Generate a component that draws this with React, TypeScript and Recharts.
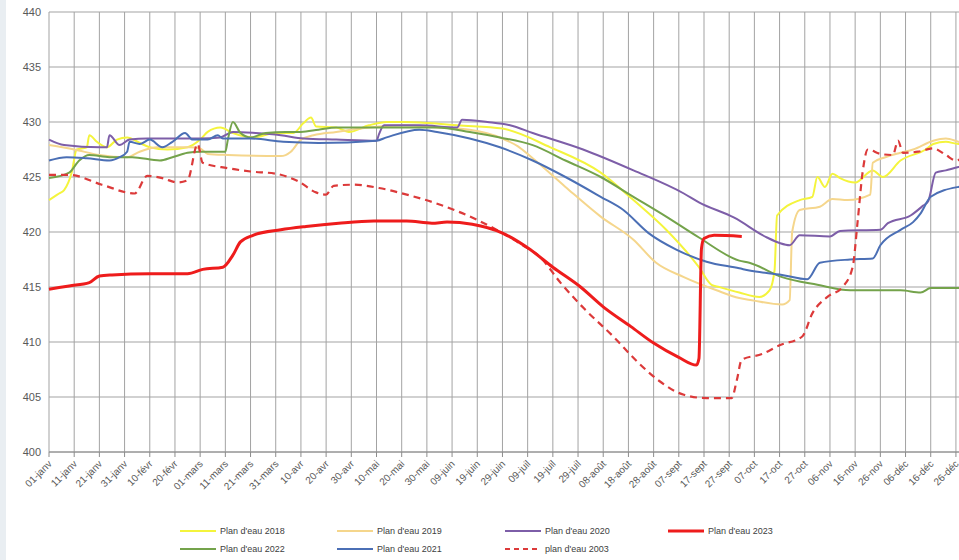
import { CartesianGrid, Line, LineChart, XAxis, YAxis } from 'recharts'

// day of year (0 = 01-janv) and water level (m)
const tickLabels = [
  '01-janv', '11-janv', '21-janv', '31-janv', '10-févr', '20-févr', '01-mars', '11-mars', '21-mars',
  '31-mars', '10-avr', '20-avr', '30-avr', '10-mai', '20-mai', '30-mai', '09-juin', '19-juin',
  '29-juin', '09-juil', '19-juil', '29-juil', '08-août', '18-août', '28-août', '07-sept', '17-sept',
  '27-sept', '07-oct', '17-oct', '27-oct', '06-nov', '16-nov', '26-nov', '06-déc', '16-déc', '26-déc',
]
const levelTicks = [400, 405, 410, 415, 420, 425, 430, 435, 440]

const days2018 = [0, 4, 6, 9, 11, 15, 16, 19, 23, 27, 31, 36, 40, 47, 55, 60, 63, 68, 73, 81, 90, 97, 101, 104, 106, 114, 119, 127, 134, 141, 151, 162, 180, 199, 219, 232, 245, 258, 263, 266, 274, 282, 286, 288, 289, 298, 303, 305, 308, 311, 314, 320, 327, 331, 338, 348, 351, 356, 361, 364]
const level2018 = [422.9, 423.5, 423.8, 425.4, 427.5, 427.7, 428.8, 428.2, 427.7, 428.4, 428.6, 428.1, 427.7, 427.5, 427.7, 428.4, 429.1, 429.5, 429.0, 428.6, 429.0, 429.0, 429.9, 430.4, 429.6, 429.5, 429.1, 429.7, 430.0, 430.0, 429.9, 429.7, 429.4, 427.7, 425.4, 422.9, 420.2, 416.8, 415.2, 415.0, 414.5, 414.1, 414.7, 416.5, 421.5, 422.9, 423.2, 425.0, 424.1, 425.3, 424.9, 424.5, 425.6, 425.0, 426.5, 427.5, 428.0, 428.2, 428.0, 428.0]

const days2019 = [0, 10, 20, 31, 36, 43, 56, 60, 63, 71, 92, 96, 100, 105, 114, 127, 141, 154, 167, 180, 186, 192, 205, 219, 232, 241, 252, 265, 274, 279, 291, 294, 295, 298, 306, 311, 317, 326, 327, 332, 338, 343, 351, 356, 361, 364]
const level2019 = [427.9, 427.5, 427.0, 426.8, 427.3, 427.7, 427.7, 427.6, 427.1, 427.0, 426.9, 427.3, 428.4, 428.8, 429.1, 429.5, 429.7, 429.5, 429.3, 428.5, 427.8, 426.7, 424.1, 421.4, 419.3, 417.2, 415.9, 414.7, 414.0, 413.8, 413.4, 413.8, 420.0, 422.0, 422.3, 423.0, 422.9, 423.4, 426.3, 426.8, 427.2, 427.5, 428.3, 428.5, 428.2, 428.0]

const days2020 = [0, 6, 20, 23, 24, 28, 32, 39, 49, 60, 68, 73, 82, 92, 101, 114, 130, 131, 133, 147, 162, 164, 174, 183, 192, 212, 232, 252, 258, 272, 285, 290, 294, 298, 310, 314, 330, 333, 342, 347, 349, 352, 356, 361, 364]
const level2020 = [428.4, 427.9, 427.7, 427.7, 428.8, 427.9, 428.4, 428.5, 428.5, 428.5, 428.6, 429.1, 429.0, 428.8, 428.5, 428.4, 428.3, 428.9, 429.7, 429.7, 429.5, 430.2, 430.0, 429.7, 429.0, 427.5, 425.6, 423.5, 422.7, 421.3, 419.5, 419.0, 418.8, 419.7, 419.6, 420.1, 420.2, 420.8, 421.5, 422.4, 422.8, 425.4, 425.6, 425.9, 426.0]

const days2023 = [0, 8, 16, 20, 25, 40, 55, 61, 69, 73, 76, 81, 92, 102, 115, 129, 142, 152, 158, 168, 180, 191, 200, 211, 220, 231, 240, 250, 257, 258, 259, 260, 264, 275]
const level2023 = [414.8, 415.1, 415.4, 416.0, 416.1, 416.2, 416.2, 416.6, 416.8, 417.9, 419.1, 419.7, 420.2, 420.5, 420.8, 421.0, 421.0, 420.8, 420.9, 420.7, 419.9, 418.4, 416.8, 415.0, 413.2, 411.4, 409.9, 408.6, 407.9, 408.5, 418.5, 419.4, 419.7, 419.6]

const days2022 = [0, 8, 12, 16, 24, 33, 44, 49, 55, 60, 70, 71, 73, 76, 80, 86, 94, 100, 107, 114, 127, 141, 154, 167, 179, 192, 205, 219, 232, 245, 258, 274, 278, 291, 305, 318, 338, 346, 350, 356, 364]
const level2022 = [424.9, 425.4, 426.5, 427.0, 426.8, 426.8, 426.5, 426.8, 427.2, 427.3, 427.3, 428.4, 430.0, 429.0, 428.6, 429.0, 429.1, 429.1, 429.3, 429.5, 429.5, 429.5, 429.5, 429.1, 428.6, 427.9, 426.5, 425.0, 423.2, 421.4, 419.5, 417.4, 417.2, 415.9, 415.2, 414.7, 414.7, 414.5, 414.9, 414.9, 414.9]

const days2021 = [0, 7, 15, 24, 28, 31, 32, 36, 40, 45, 49, 54, 57, 63, 67, 69, 80, 93, 107, 130, 134, 147, 154, 167, 179, 192, 205, 219, 228, 238, 249, 261, 274, 278, 291, 301, 306, 318, 327, 330, 338, 343, 346, 350, 361, 364]
const level2021 = [426.5, 426.8, 426.7, 426.5, 426.8, 427.3, 428.2, 428.0, 428.4, 427.7, 428.2, 429.0, 428.4, 428.4, 428.8, 428.5, 428.5, 428.2, 428.1, 428.3, 428.6, 429.3, 429.1, 428.5, 427.7, 426.5, 425.0, 423.2, 422.0, 419.9, 418.4, 417.3, 416.7, 416.5, 416.1, 415.7, 417.2, 417.5, 417.6, 418.8, 420.2, 420.9, 421.7, 423.2, 424.1, 424.2]

const days2003 = [0, 8, 21, 34, 39, 45, 51, 55, 59, 61, 71, 80, 90, 99, 106, 110, 113, 121, 131, 142, 155, 170, 180, 188, 195, 203, 213, 224, 234, 242, 252, 261, 271, 273, 275, 283, 290, 299, 303, 309, 315, 319, 321, 323, 325, 330, 335, 337, 339, 345, 351, 356, 360, 363]
const level2003 = [425.2, 425.2, 424.3, 423.5, 425.1, 424.9, 424.5, 424.7, 428.0, 426.3, 425.8, 425.5, 425.3, 424.6, 423.6, 423.4, 424.2, 424.3, 424.0, 423.4, 422.5, 421.1, 419.9, 418.8, 417.7, 415.4, 412.9, 410.5, 408.1, 406.5, 405.2, 404.9, 404.9, 406.5, 408.4, 408.9, 409.7, 410.5, 412.6, 414.1, 415.0, 416.8, 421.0, 425.5, 427.5, 427.1, 427.0, 428.3, 427.2, 427.3, 427.6, 427.0, 426.5, 426.8]

const toPoints = (days: number[], levels: number[]) => days.map((day, i) => ({ day, level: levels[i] }))

type Serie = { name: string; color: string; width: number; dash?: string; data: { day: number; level: number }[] }

// drawing order (red on top)
const series: Serie[] = [
  { name: "Plan d'eau 2018", color: '#f4f43c', width: 2, data: toPoints(days2018, level2018) },
  { name: "Plan d'eau 2019", color: '#f5d68c', width: 2, data: toPoints(days2019, level2019) },
  { name: "Plan d'eau 2020", color: '#7d5ea8', width: 2, data: toPoints(days2020, level2020) },
  { name: "Plan d'eau 2022", color: '#74a34b', width: 2, data: toPoints(days2022, level2022) },
  { name: "Plan d'eau 2021", color: '#4b6fb5', width: 2, data: toPoints(days2021, level2021) },
  { name: "plan d'eau 2003", color: '#dc3a3a', width: 2.2, dash: '7 5', data: toPoints(days2003, level2003) },
  { name: "Plan d'eau 2023", color: '#ee1c1c', width: 3, data: toPoints(days2023, level2023) },
]

// legend reads row by row
const legendRows = [
  ["Plan d'eau 2018", "Plan d'eau 2019", "Plan d'eau 2020", "Plan d'eau 2023"],
  ["Plan d'eau 2022", "Plan d'eau 2021", "plan d'eau 2003"],
]
const legendCols = [180, 337, 505, 668]

const font = '"Liberation Sans", Arial, sans-serif'

function DayTick({ x, y, payload }: any) {
  const label = tickLabels[Math.round(payload.value / 10)]
  return (
    <g transform={`translate(${x + 1},${y + 3})`}>
      <text textAnchor="end" transform="rotate(-45)" dy="0.35em" fontSize={10} fill="#595959" fontFamily={font}>
        {label}
      </text>
    </g>
  )
}

export default function App() {
  const byName = Object.fromEntries(series.map((s) => [s.name, s]))
  return (
    <div style={{ position: 'fixed', left: 0, top: 0, width: 959, height: 560, overflow: 'hidden', background: '#fff' }}>
      <div style={{ position: 'absolute', left: 0, top: 0, width: 6, height: 560, background: '#e9eef2' }} />
      <LineChart width={990} height={560} margin={{ top: 12, right: 24, left: 0, bottom: 48 }}>
        <CartesianGrid stroke="#a3a3a3" strokeWidth={1} />
        <XAxis
          dataKey="day"
          type="number"
          domain={[0, 364]}
          ticks={tickLabels.map((_, i) => i * 10)}
          interval={0}
          height={60}
          tick={<DayTick />}
          tickSize={5}
          stroke="#8c8c8c"
          allowDuplicatedCategory={false}
        />
        <YAxis
          type="number"
          domain={[400, 440]}
          ticks={levelTicks}
          width={49}
          axisLine={false}
          tickLine={false}
          tick={{ fontSize: 11, fill: '#595959', fontFamily: font }}
        />
        {series.map((s) => (
          <Line
            key={s.name}
            data={s.data}
            dataKey="level"
            type="monotone"
            stroke={s.color}
            strokeWidth={s.width}
            strokeDasharray={s.dash}
            dot={false}
            isAnimationActive={false}
          />
        ))}
      </LineChart>
      {legendRows.map((row, r) =>
        row.map((name, c) => {
          const s = byName[name]
          return (
            <div
              key={name}
              style={{ position: 'absolute', left: legendCols[c], top: 524 + r * 18, height: 14, display: 'flex', alignItems: 'center', fontFamily: font, fontSize: 9, color: '#404040' }}
            >
              <svg width={36} height={6} style={{ marginRight: 4 }}>
                <line x1={0} y1={3} x2={36} y2={3} stroke={s.color} strokeWidth={s.width} strokeDasharray={s.dash ? '5 4' : undefined} />
              </svg>
              {name}
            </div>
          )
        }),
      )}
    </div>
  )
}
